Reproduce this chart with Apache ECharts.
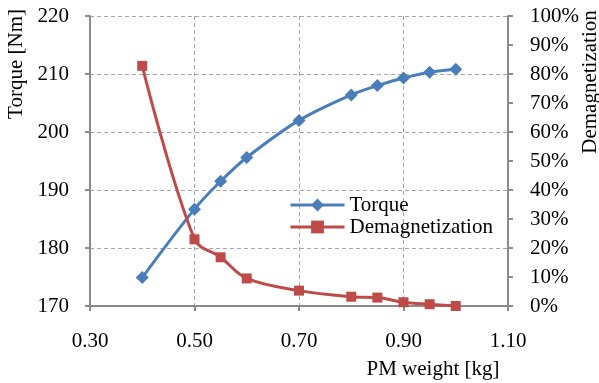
<!DOCTYPE html>
<html>
<head>
<meta charset="utf-8">
<script src="https://cdn.jsdelivr.net/npm/echarts@6/dist/echarts.min.js"></script>
<style>
  html, body { margin: 0; padding: 0; background: #fff; }
  #chart { width: 599px; height: 383px; }
</style>
</head>
<body>
<div id="chart"></div>
<script>
const pmWeight = [0.40, 0.50, 0.55, 0.60, 0.70, 0.80, 0.85, 0.90, 0.95, 1.00];
const torque = [174.9, 186.7, 191.5, 195.6, 202.0, 206.4, 208.0, 209.3, 210.3, 210.8];
const demagnetization = [0.828, 0.230, 0.168, 0.095, 0.053, 0.032, 0.029, 0.013, 0.006, 0.000];

const font = '"Liberation Serif", "Times New Roman", serif';
const blue = '#4a7ebb';
const red = '#be4b48';
const axisGray = '#8a8a8a';
const gridLine = { show: true, lineStyle: { color: '#a6a6a6', width: 1, type: [4, 3] } };
const label = { fontFamily: font, fontSize: 21, color: '#000' };

const chart = echarts.init(document.getElementById('chart'));
chart.setOption({
  animation: false,
  textStyle: { fontFamily: font },
  grid: { left: 90, right: 91, top: 16, bottom: 77, outerBoundsMode: 'none', containLabel: false },
  legend: {
    orient: 'vertical',
    left: 284,
    top: 189,
    itemWidth: 54,
    itemHeight: 16,
    itemGap: 0,
    lineStyle: { width: 3 },
    textStyle: { ...label, lineHeight: 22 },
    data: ['Torque', 'Demagnetization']
  },
  xAxis: {
    type: 'value',
    min: 0.3,
    max: 1.1,
    interval: 0.2,
    name: 'PM weight [kg]',
    nameLocation: 'middle',
    nameGap: 53,
    nameMoveOverlap: false,
    nameTextStyle: { ...label, padding: [0, 0, 0, 268] },
    axisLine: { lineStyle: { color: axisGray, width: 2 } },
    axisTick: { show: true, length: 5, lineStyle: { color: axisGray, width: 2 } },
    axisLabel: { ...label, margin: 25, formatter: (v) => v.toFixed(2) },
    splitLine: gridLine
  },
  yAxis: [
    {
      type: 'value',
      min: 170,
      max: 220,
      interval: 10,
      name: 'Torque [Nm]',
      nameLocation: 'middle',
      nameRotate: 90,
      nameGap: 63,
      nameMoveOverlap: false,
      nameTextStyle: { ...label, padding: [0, 0, 0, 194] },
      axisLine: { show: true, lineStyle: { color: axisGray, width: 2 } },
      axisTick: { show: true, length: 5, lineStyle: { color: axisGray, width: 2 } },
      axisLabel: { ...label, margin: 21 },
      splitLine: gridLine
    },
    {
      type: 'value',
      position: 'right',
      min: 0,
      max: 1,
      interval: 0.1,
      name: 'Demagnetization',
      nameLocation: 'middle',
      nameRotate: 90,
      nameGap: 72,
      nameMoveOverlap: false,
      nameTextStyle: { ...label, padding: [0, 0, 0, 158] },
      axisLine: { show: true, lineStyle: { color: axisGray, width: 2 } },
      axisTick: { show: true, length: 5, lineStyle: { color: axisGray, width: 2 } },
      axisLabel: { ...label, margin: 22, formatter: (v) => Math.round(v * 100) + '%' },
      splitLine: { show: false }
    }
  ],
  series: [
    {
      name: 'Torque',
      type: 'line',
      yAxisIndex: 0,
      smooth: 0.35,
      symbol: 'diamond',
      symbolSize: 13,
      lineStyle: { color: blue, width: 3 },
      itemStyle: { color: blue },
      data: pmWeight.map((x, i) => [x, torque[i]])
    },
    {
      name: 'Demagnetization',
      type: 'line',
      yAxisIndex: 1,
      smooth: 0.35,
      symbol: 'rect',
      symbolSize: 10,
      lineStyle: { color: red, width: 3 },
      itemStyle: { color: red },
      data: pmWeight.map((x, i) => [x, demagnetization[i]])
    }
  ]
});
</script>
</body>
</html>
